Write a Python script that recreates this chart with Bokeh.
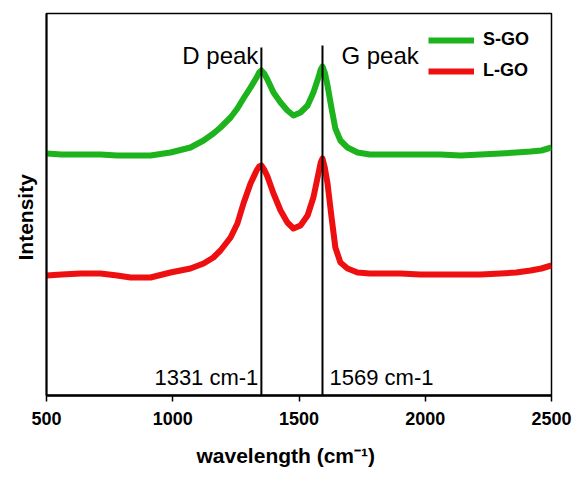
import math
from bokeh.plotting import figure
from bokeh.models import Range1d, Label, Legend, LegendItem, FixedTicker, Title
from bokeh.embed import file_html
from bokeh.resources import INLINE

# ---- data (intensity in arbitrary units) ----
wavenumber = [500, 560, 635, 714, 780, 833, 912, 991, 1070, 1122, 1161, 1189, 1229,
              1256, 1280, 1308, 1332, 1342, 1351, 1362, 1375, 1399, 1427, 1454, 1478,
              1506, 1534, 1557, 1577, 1586, 1593, 1602, 1613, 1629, 1644, 1664, 1692,
              1732, 1780, 1823, 1902, 1980, 2060, 2140, 2219, 2298, 2360, 2417, 2460, 2500]
s_go = [242, 241, 241, 241, 240, 240, 240, 243, 248, 255, 262, 268, 278,
        287, 297, 308, 318, 323, 325, 322, 316, 303, 293, 285, 280,
        283, 290, 303, 318, 326, 329, 323, 310, 287, 267, 255, 248,
        243, 241, 241, 241, 241, 241, 240, 241, 242, 243, 244, 245, 248]
l_go = [120, 121, 122, 122, 120, 118, 118, 123, 127, 132, 138, 145, 158,
        172, 192, 212, 225, 229, 230, 226, 219, 202, 185, 173, 167,
        170, 180, 198, 222, 233, 237, 228, 212, 178, 148, 133, 127,
        123, 122, 122, 122, 121, 121, 121, 121, 122, 123, 125, 127, 130]
series_names = ["S-GO", "L-GO"]
series_colors = ["#1db31d", "#ee1010"]
x_ticks = [500, 1000, 1500, 2000, 2500]
peak_positions = [1351, 1593]
peak_line_tops = [348, 350]
peak_names = ["D peak", "G peak"]
peak_labels = ["1331 cm-1", "1569 cm-1"]

FONT = "Liberation Sans"

p = figure(width=577, height=483, output_backend="svg", toolbar_location=None,
           x_range=Range1d(500, 2500), y_range=Range1d(0, 382),
           min_border_left=46, min_border_right=26, min_border_top=13, min_border_bottom=88)
p.background_fill_color = "white"
p.border_fill_color = "white"
p.outline_line_color = "black"
p.outline_line_width = 1.5
p.xgrid.visible = False
p.ygrid.visible = False

# curves
g = p.line(wavenumber, s_go, line_color=series_colors[0], line_width=6, line_join="round")
r = p.line(wavenumber, l_go, line_color=series_colors[1], line_width=6, line_join="round")

# peak marker lines
p.segment(x0=peak_positions, y0=[0, 0], x1=peak_positions, y1=peak_line_tops,
          line_color="black", line_width=2)

# x axis
p.xaxis.ticker = FixedTicker(ticks=x_ticks)
p.xaxis.minor_tick_line_color = None
p.xaxis.major_tick_in = 0
p.xaxis.major_tick_out = 6
p.xaxis.major_tick_line_width = 1.5
p.xaxis.major_tick_line_color = "black"
p.xaxis.axis_line_width = 2.5
p.xaxis.axis_line_color = "black"
p.xaxis.major_label_text_font = FONT
p.xaxis.major_label_text_font_style = "bold"
p.xaxis.major_label_text_font_size = "18px"
p.xaxis.major_label_text_color = "black"
p.xaxis.major_label_standoff = 10

# y axis: line only
p.yaxis.ticker = FixedTicker(ticks=[])
p.yaxis.minor_tick_line_color = None
p.yaxis.major_tick_line_color = None
p.yaxis.major_tick_out = 0
p.yaxis.major_tick_in = 0
p.yaxis.major_label_standoff = 0
p.yaxis.major_label_text_font_size = "0px"
p.yaxis.axis_line_width = 2
p.yaxis.axis_line_color = "black"

# axis titles
p.add_layout(Title(text="wavelength (cm\u207b\u00b9)", align="left", offset=150,
                   standoff=29, text_font=FONT, text_font_style="bold",
                   text_font_size="21px", text_color="black"), "below")
p.add_layout(Title(text="Intensity", align="left", offset=135,
                   standoff=20, text_font=FONT, text_font_style="bold",
                   text_font_size="21px", text_color="black"), "left")

# peak annotations
p.add_layout(Label(x=1339, y=340, text=peak_names[0], text_font=FONT, text_font_size="24px",
                   text_align="right", text_baseline="alphabetic", text_color="black"))
p.add_layout(Label(x=1668, y=340, text=peak_names[1], text_font=FONT, text_font_size="24px",
                   text_align="left", text_baseline="alphabetic", text_color="black"))
p.add_layout(Label(x=1339, y=18, text=peak_labels[0], text_font=FONT, text_font_size="22px",
                   text_align="right", text_baseline="alphabetic", text_color="black"))
p.add_layout(Label(x=1621, y=18, text=peak_labels[1], text_font=FONT, text_font_size="22px",
                   text_align="left", text_baseline="alphabetic", text_color="black"))

legend = Legend(items=[LegendItem(label=series_names[0], renderers=[g]),
                       LegendItem(label=series_names[1], renderers=[r])],
                location=(382, 314), padding=0, margin=0, spacing=10,
                glyph_width=46, glyph_height=16, label_height=16, label_standoff=9,
                label_text_font=FONT, label_text_font_style="bold",
                label_text_font_size="18px", label_text_color="black",
                border_line_color=None, background_fill_alpha=0)
p.add_layout(legend)

open("out.html", "w").write(file_html(p, INLINE))
